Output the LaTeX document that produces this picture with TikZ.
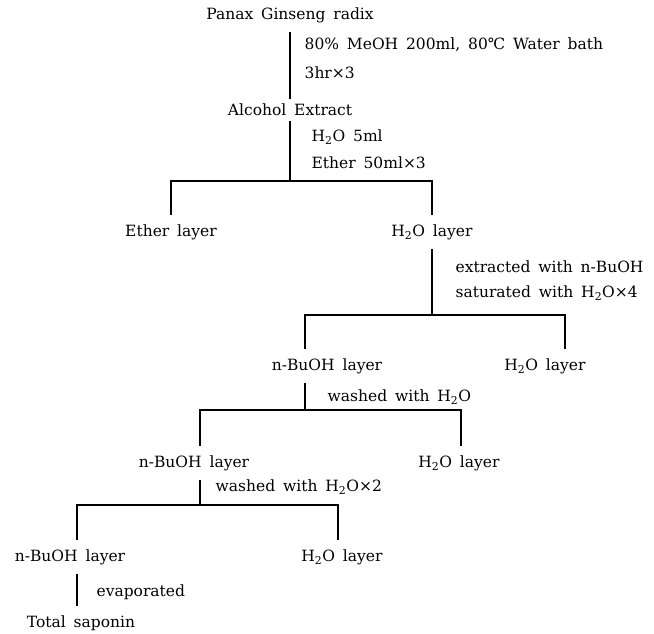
\documentclass[tikz,border=0pt]{standalone}
\usepackage{fontspec}
\setmainfont{DejaVu Serif}[WordSpace=1.6]
\usetikzlibrary{positioning}

\begin{document}
\begin{tikzpicture}[x=1pt,y=-1pt,line width=1.3pt,
    every node/.style={font=\fontsize{15.5}{18}\selectfont},
    layer/.style={inner xsep=0pt,inner ysep=9pt},
    cond/.style={anchor=west,inner sep=0pt}]
  \useasboundingbox (0,0) rectangle (654,633);
  % materials and layers
  \node[layer] (ginseng) at (290,15) {Panax Ginseng radix};
  \node[layer,inner ysep=4pt] (alcohol) at (290,110) {Alcohol Extract};
  \node[layer] (ether)   at (171,232) {Ether layer};
  \node[layer] (water1)  at (432,232) {H\textsubscript{2}O layer};
  \node[layer] (buoh1)   at (327,366) {n-BuOH layer};
  \node[layer] (water2)  at (545,366) {H\textsubscript{2}O layer};
  \node[layer] (buoh2)   at (194,463) {n-BuOH layer};
  \node[layer] (water3)  at (459,463) {H\textsubscript{2}O layer};
  \node[layer] (buoh3)   at (70,557)  {n-BuOH layer};
  \node[layer] (water4)  at (342,557) {H\textsubscript{2}O layer};
  \node[layer] (saponin) at (81,623)  {Total saponin};
  % branch points
  \coordinate (j1) at (290,181);
  \coordinate (j2) at (432,315);
  \coordinate (j3) at (305,410);
  \coordinate (j4) at (200,505);
  % conditions
  \node[cond] (c1a) at (304,45)  {80\% MeOH 200ml, 80℃ Water bath};
  \node[cond] (c1b) at (304,73)  {3hr\texttimes 3};
  \node[cond] (c2a) at (311,137) {H\textsubscript{2}O 5ml};
  \node[cond] (c2b) at (311,163) {Ether 50ml\texttimes 3};
  \node[cond] (c3a) at (455,267) {extracted with n-BuOH};
  \node[cond] (c3b) at (455,293) {saturated with H\textsubscript{2}O\texttimes 4};
  \node[cond] (c4)  at (327,397) {washed with H\textsubscript{2}O};
  \node[cond] (c5)  at (215,487) {washed with H\textsubscript{2}O\texttimes 2};
  \node[cond] (c6)  at (96,592)  {evaporated};
  % flow lines
  \draw (ginseng) -- (alcohol);
  \draw (alcohol) -- (j1);
  \draw (ether) |- (j1) -| (water1);
  \draw (water1) -- (j2);
  \draw ([xshift=-22pt]buoh1.north) |- (j2) -| ([xshift=20pt]water2.north);
  \draw ([xshift=-22pt]buoh1.south) -- (j3);
  \draw ([xshift=6pt]buoh2.north) |- (j3) -| ([xshift=2pt]water3.north);
  \draw ([xshift=6pt]buoh2.south) -- (j4);
  \draw ([xshift=7pt]buoh3.north) |- (j4) -| ([xshift=-4pt]water4.north);
  \draw ([xshift=7pt]buoh3.south) -- ([xshift=7pt]buoh3.south |- saponin.north);
\end{tikzpicture}
\end{document}
